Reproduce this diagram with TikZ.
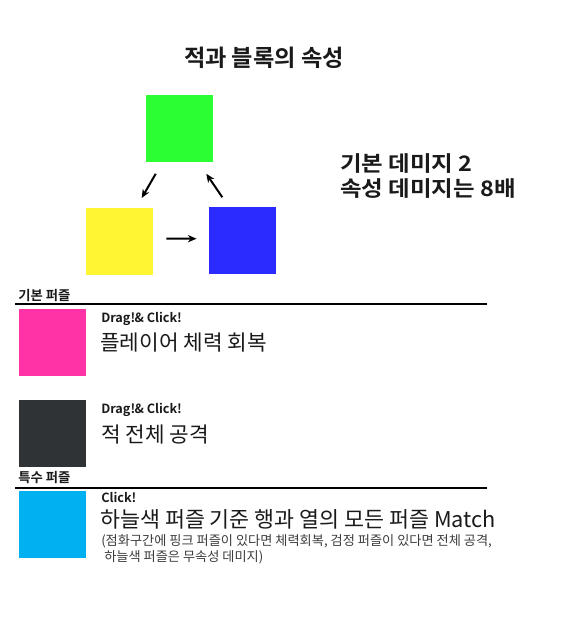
\documentclass[tikz,border=0pt]{standalone}
\usepackage{fontspec}
\setmainfont{Noto Sans CJK KR}[BoldFont={Noto Sans CJK KR Bold}]
\newfontfamily\widekr{Noto Sans CJK KR Bold}[FakeStretch=1.1]
\usetikzlibrary{arrows.meta,calc}
\definecolor{cgreen}{HTML}{2BFF33}
\definecolor{cyellow}{HTML}{FFF533}
\definecolor{cblue}{HTML}{2B2BFF}
\definecolor{cpink}{HTML}{FF33A6}
\definecolor{cdark}{HTML}{303336}
\definecolor{ccyan}{HTML}{00B0F0}
\definecolor{ctext}{HTML}{1A1A1A}
\begin{document}
\begin{tikzpicture}[x=0.75pt,y=-0.75pt,
  sq/.style={draw=none,inner sep=0pt,minimum width=50.25pt,minimum height=50.25pt},
  arr/.style={-{Stealth[length=6.5pt,width=5.5pt]},line width=1.5pt},
  txt/.style={inner sep=0pt,anchor=base west,text=ctext},
  rule/.style={line width=1.1pt}]
\useasboundingbox (0,0) rectangle (569,622);
\node[txt,anchor=base,font=\bfseries\fontsize{17.4}{20}\selectfont] (title) at (264,66) {적과 블록의 속성};
\node[sq,fill=cgreen] (g) at (179.2,128.7) {};
\node[sq,fill=cyellow] (y) at (119.8,241.5) {};
\node[sq,fill=cblue] (b) at (242.8,240.8) {};
\draw[arr] ($(g.south)+(-23.5,11.3)$) -- ($(y.north)+(21.9,-9.7)$);
\draw[arr] ($(b.north)+(-20.5,-9.8)$) -- ($(g.south)+(27.1,11.3)$);
\draw[arr] ($(y.east)+(12.8,-2.8)$) -- ($(b.west)+(-12.5,-2.1)$);
\node[txt,font=\widekr\fontsize{16}{19}\selectfont] (dmg1) at (340,171) {기본 데미지 2};
\node[txt,font=\widekr\fontsize{16}{19}\selectfont] (dmg2) at (340,196) {속성 데미지는 8배};
\node[txt,font=\bfseries\fontsize{10}{12}\selectfont] (h1) at (18,300) {기본 퍼즐};
\draw[rule] (15,304) -- (487,304);
\node[sq,fill=cpink] (p) at (52.5,342.5) {};
\node[txt,font=\bfseries\fontsize{9.5}{11}\selectfont] (d1) at (101,322) {Drag!\kern-0.5pt\& Click!};
\node[txt,font=\fontsize{16}{19}\selectfont] (t1) at (100,350) {플레이어 체력 회복};
\node[sq,fill=cdark] (k) at (52.5,433.5) {};
\node[txt,font=\bfseries\fontsize{9.5}{11}\selectfont] (d2) at (101,413) {Drag!\kern-0.5pt\& Click!};
\node[txt,font=\fontsize{16}{19}\selectfont] (t2) at (101,442) {적 전체 공격};
\node[txt,font=\bfseries\fontsize{10}{12}\selectfont] (h2) at (18,482) {특수 퍼즐};
\draw[rule] (15,488) -- (487,488);
\node[sq,fill=ccyan] (c) at (52.5,524.5) {};
\node[txt,font=\bfseries\fontsize{9.5}{11}\selectfont] (d3) at (101,502) {Click!};
\node[txt,font=\fontsize{16.3}{19}\selectfont] (t3) at (100,527) {하늘색 퍼즐 기준 행과 열의 모든 퍼즐 Match};
\node[txt,font=\fontsize{9.9}{12}\selectfont,text=ctext!85] (n1) at (101,545) {(점화구간에 핑크 퍼즐이 있다면 체력회복, 검정 퍼즐이 있다면 전체 공격,};
\node[txt,font=\fontsize{9.9}{12}\selectfont,text=ctext!85] (n2) at (104,561) {하늘색 퍼즐은 무속성 데미지)};
\end{tikzpicture}
\end{document}
